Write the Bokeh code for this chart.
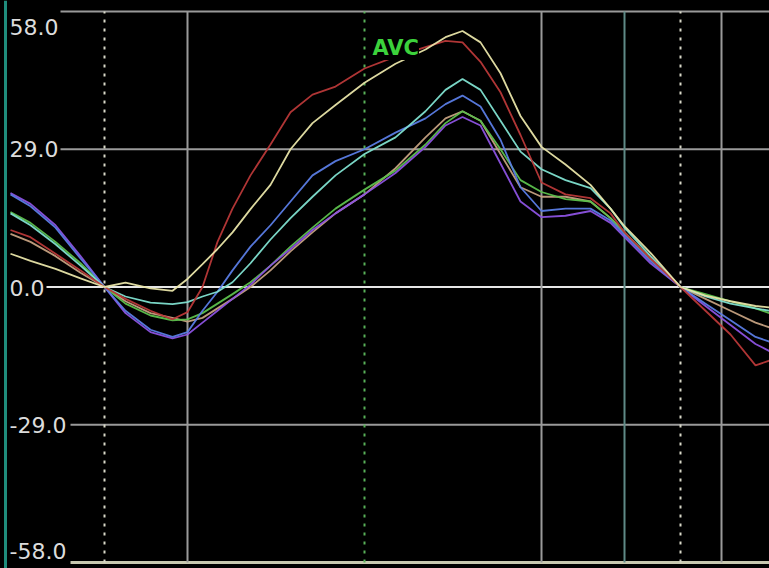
from bokeh.plotting import figure
from bokeh.models import Range1d, Label, ColumnDataSource
from bokeh.core.properties import value
from bokeh.embed import file_html
from bokeh.resources import INLINE

# ---------------- data ----------------
t = [10, 30, 55, 80, 104, 125, 150, 172, 187, 202, 217, 232, 250, 270, 290, 312, 335, 364,
     395, 425, 445, 462, 480, 500, 520, 541, 565, 590, 610, 624, 650, 680, 705, 730, 755, 769]

avc = [7, 5.5, 3.8, 1.8, 0, 0.9, -0.3, -0.8, 1.7, 4.8, 8, 11.5, 16.4, 21.5, 29, 34.5, 38.3, 43,
       47, 50, 52.6, 53.9, 51.5, 45, 36, 29.5, 25.8, 21.5, 16.5, 12.8, 7.2, 0, -1.8, -3, -4, -4.3]
red_s = [12, 10.5, 7, 3.5, 0, -2.5, -5, -6.8, -5.3, 0, 9.5, 16.5, 23.5, 30, 36.8, 40.5, 42.2, 46,
         48.5, 50.5, 51.8, 51.5, 47.4, 41, 32, 22, 19.5, 18.7, 15.5, 11.5, 6, 0, -5, -10, -16.5, -15.5]
cyan_s = [15.5, 13, 9, 4.5, 0, -2, -3.3, -3.6, -3.2, -2, -1, 1, 5, 10, 14.5, 19, 23.5, 28,
          31.5, 37, 41.5, 43.8, 41.5, 35, 28.5, 24.8, 22.5, 20.8, 16.5, 12.5, 6.5, 0, -2, -3.5, -4.5, -5]
blue_s = [19.5, 17, 12.5, 6, 0, -5, -9, -10.5, -9.5, -5, -1, 3.5, 8.5, 13, 18, 23.5, 26.5, 29,
          32.5, 35.5, 38.5, 40.3, 38, 31, 21, 16, 16.5, 16.5, 14, 11, 5.5, 0, -3.5, -7, -10.5, -11.5]
purple_s = [19.8, 17.5, 13, 6.5, 0, -5.5, -9.5, -10.8, -10, -7.5, -5, -2.5, 0.5, 4.5, 8, 12, 15.5, 19.5,
            24, 29.5, 34, 35.8, 34, 26, 18, 14.7, 15, 16, 13.5, 10.5, 5, 0, -4, -8, -12, -13.5]
green_s = [15.8, 13.5, 9.5, 5, 0, -3.5, -6, -7, -6.8, -5.5, -3.5, -1.5, 1, 4.5, 8.5, 12.5, 16.5, 20.5,
           24.5, 30, 34.5, 37, 35, 29, 22.5, 20, 18.5, 18, 14.5, 11.5, 6, 0, -1.5, -3, -4.5, -5.5]
tan_s = [11.2, 9.5, 6.5, 3, 0, -3, -5.5, -6.5, -7.3, -6.5, -4.5, -2.5, 0, 3.5, 7.5, 11.5, 15.5, 19.5,
         25, 31.5, 35.5, 37, 35, 28, 21, 19, 19, 18, 14.5, 11.5, 6, 0, -2.5, -5, -7.5, -8.5]

y_ticks = [58, 29, 0, -29, -58]
y_tick_labels = ["58.0", "29.0", "0.0", "-29.0", "-58.0"]

solid_marks = [187, 541, 721]
teal_marks = [624]
dotted_marks = [104, 680]
cursor_marks = [364]
cursor_label = "AVC"

# ---------------- styles / layout ----------------
BG = "#000000"
series = [
    (tan_s, "#c4a080"),
    (green_s, "#5cc04c"),
    (purple_s, "#8c52e0"),
    (blue_s, "#5a7ce4"),
    (cyan_s, "#7fe0d0"),
    (red_s, "#b83838"),
    (avc, "#e8e4a8"),
]
grid_start = [60, 60, 46, 70, 70]
grid_colors = ["#9a9a9a", "#9a9a9a", "#e6e6e6", "#9a9a9a", "#c8c8b0"]
grid_widths = [2, 2, 2, 2, 3]
label_offsets = [15, 0, 1, 0, -12]

Y_TOP, Y_BOT = 60.316, -59.263
p = figure(width=769, height=568, x_range=Range1d(0, 769), y_range=Range1d(Y_BOT, Y_TOP),
           output_backend="svg", toolbar_location=None, min_border=0,
           background_fill_color=BG, border_fill_color=BG, outline_line_color=None)
p.axis.visible = False
p.grid.visible = False

# left teal border
p.segment(x0=[5], x1=[5], y0=[Y_BOT], y1=[Y_TOP], line_color="#1f8c7c", line_width=3)

# horizontal grid lines
p.segment(x0=grid_start, x1=[769] * len(y_ticks), y0=y_ticks, y1=y_ticks,
          line_color=grid_colors, line_width=grid_widths)

lo, hi = y_ticks[-1], y_ticks[0]
# vertical markers
p.segment(x0=solid_marks, x1=solid_marks, y0=[lo] * len(solid_marks), y1=[hi] * len(solid_marks),
          line_color="#9a9a9a", line_width=2)
p.segment(x0=teal_marks, x1=teal_marks, y0=[lo], y1=[hi], line_color="#5f8a86", line_width=2)
p.segment(x0=dotted_marks, x1=dotted_marks, y0=[lo] * len(dotted_marks), y1=[hi] * len(dotted_marks),
          line_color="#d8d8c8", line_width=2, line_dash="3 6")
p.segment(x0=cursor_marks, x1=cursor_marks, y0=[lo], y1=[hi],
          line_color="#58b058", line_width=2, line_dash="3 6")

# tick labels
src = ColumnDataSource(dict(x=[9] * len(y_ticks), y=y_ticks, text=y_tick_labels, yo=label_offsets))
p.text(x="x", y="y", text="text", y_offset="yo", source=src, text_font=value("DejaVu Sans"),
       text_font_size="22px", text_color="#dcdcdc", text_baseline="middle", text_align="left")

# series
for ys, col in series:
    p.line(t, ys, line_color=col, line_width=1.8, line_alpha=0.95)

# cursor label
p.add_layout(Label(x=cursor_marks[0] + 8, y=50.3, text=cursor_label, text_color="#3cd23c",
                   text_font="DejaVu Sans", text_font_size="21px", text_font_style="bold",
                   text_baseline="middle", background_fill_color=BG, background_fill_alpha=1.0))

html = file_html(p, INLINE)
html = html.replace("</head>", "<style>body{background:#000000;}</style></head>", 1)
open("out.html", "w").write(html)
